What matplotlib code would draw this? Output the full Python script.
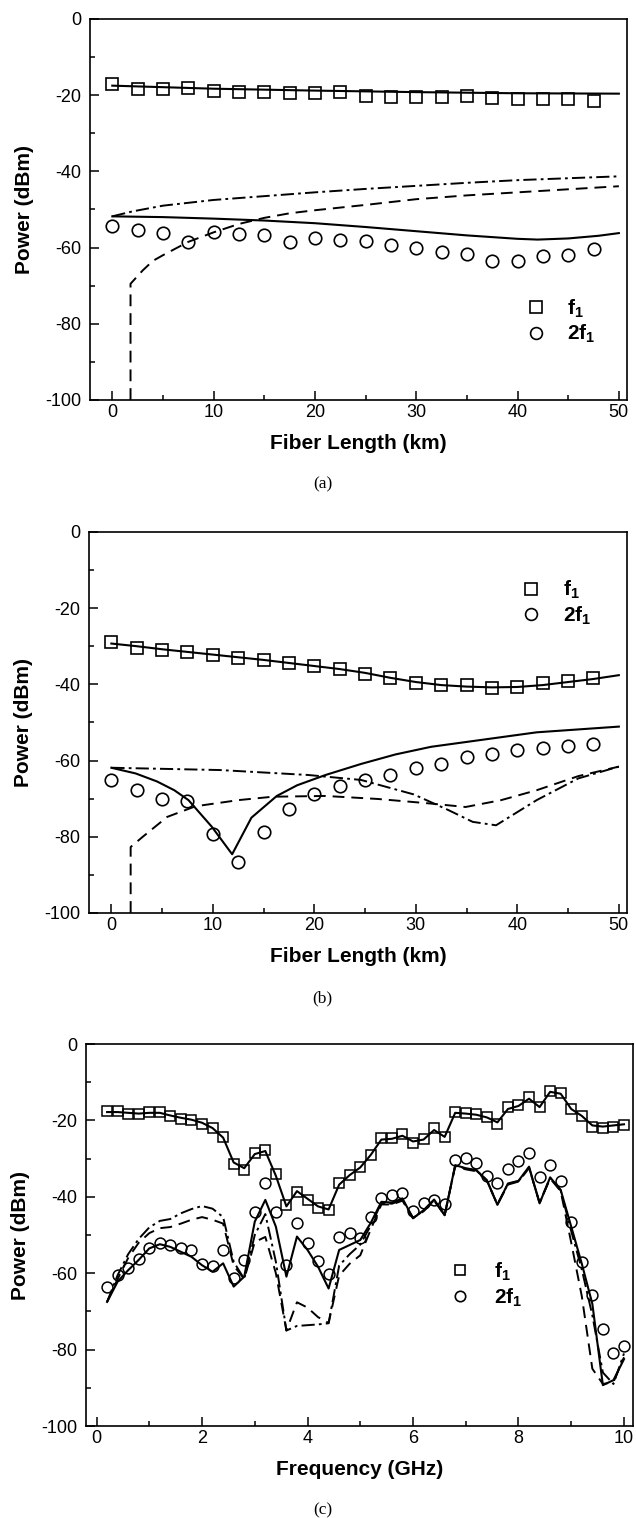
import matplotlib
matplotlib.use('Agg')
import matplotlib.pyplot as plt
from matplotlib.ticker import MultipleLocator
from matplotlib.lines import Line2D

plt.rcParams['font.family'] = ['Liberation Sans', 'DejaVu Sans']
plt.rcParams['axes.unicode_minus'] = False
plt.rcParams['mathtext.fontset'] = 'custom'
plt.rcParams['mathtext.bf'] = 'Liberation Sans:bold'
plt.rcParams['mathtext.rm'] = 'Liberation Sans'
plt.rcParams['lines.scale_dashes'] = False

DASH = (0, (8.5, 5))
DASHDOT = (0, (9.5, 3, 2, 3))

# ---- panel (a): power vs fiber length ----
a_km = [0, 2.5, 5, 7.5, 10, 12.5, 15, 17.5, 20, 22.5, 25, 27.5, 30, 32.5,
        35, 37.5, 40, 42.5, 45, 47.5]
a_f1_meas = [-17.0, -18.5, -18.5, -18.2, -18.8, -19.2, -19.2, -19.5, -19.4,
             -19.2, -20.1, -20.4, -20.4, -20.5, -20.1, -20.7, -21.0, -21.0,
             -21.1, -21.6]
a_2f1_meas = [-54.4, -55.3, -56.1, -58.6, -55.9, -56.5, -56.6, -58.6, -57.5,
              -57.9, -58.3, -59.2, -60.1, -61.2, -61.6, -63.4, -63.5, -62.3,
              -62.0, -60.3]
a_f1_sim_x = [0, 10, 20, 30, 40, 50]
a_f1_sim = [-17.5, -18.3, -18.8, -19.2, -19.5, -19.6]
a_2f1_sim_x = [0, 5, 10, 15, 20, 25, 30, 35, 40, 42, 45, 48, 50]
a_2f1_sim = [-51.8, -52.0, -52.4, -52.9, -53.6, -54.6, -55.7, -56.8, -57.7,
             -57.9, -57.6, -56.9, -56.2]
a_dd_x = [0, 2, 5, 10, 15, 20, 25, 30, 35, 40, 45, 50]
a_dd = [-51.8, -50.5, -49.0, -47.5, -46.5, -45.5, -44.6, -43.8, -43.0, -42.3,
        -41.8, -41.3]
a_da_x = [1.8, 1.8, 3, 4, 5, 7.5, 10, 12.5, 15, 17.5, 20, 25, 30, 35, 40, 45, 50]
a_da = [-100, -69.5, -66.0, -63.5, -62.0, -58.5, -56.0, -53.8, -52.2, -51.0,
        -50.2, -48.8, -47.3, -46.3, -45.5, -44.7, -43.9]

# ---- panel (b) ----
b_km = a_km
b_f1_meas = [-28.9, -30.6, -31.0, -31.5, -32.2, -33.0, -33.7, -34.5, -35.1,
             -36.1, -37.3, -38.4, -39.6, -40.2, -40.3, -41.0, -40.6, -39.7,
             -39.1, -38.4]
b_2f1_meas = [-65.1, -67.8, -70.1, -70.6, -79.3, -86.6, -78.7, -72.8, -68.8,
              -66.7, -65.1, -63.8, -61.9, -60.8, -59.2, -58.4, -57.3, -56.8,
              -56.1, -55.7]
b_f1_sim_x = [0, 2.5, 5, 7.5, 10, 12.5, 15, 17.5, 20, 22.5, 25, 27.5, 30,
              32.5, 35, 37.5, 40, 42.5, 45, 47.5, 50]
b_f1_sim = [-29.3, -30.0, -30.8, -31.5, -32.2, -32.9, -33.6, -34.4, -35.2,
            -36.0, -37.0, -38.3, -39.4, -40.2, -40.6, -40.8, -40.7, -40.2,
            -39.4, -38.6, -37.6]
b_2f1_sim_x = [0, 2.4, 4.5, 6.2, 7.6, 9.9, 11.9, 13.8, 16.3, 18.3, 21.1, 24.6,
               28, 31.5, 36.7, 41.9, 50]
b_2f1_sim = [-61.9, -63.4, -65.5, -67.8, -70.4, -77.4, -84.6, -75.0, -69.3,
             -66.5, -63.8, -60.9, -58.4, -56.4, -54.5, -52.6, -51.1]
b_dd_x = [0, 10.7, 19.4, 24.6, 29.8, 33.2, 35.6, 37.9, 41.9, 46, 50]
b_dd = [-61.9, -62.5, -63.8, -65.1, -68.9, -73.0, -76.1, -77.0, -70.4, -64.7,
        -61.6]
b_da_x = [1.9, 1.9, 3.1, 5.5, 8.3, 12.5, 15.9, 21.1, 26.3, 31.5, 34.9, 38.4,
          41.9, 46, 50]
b_da = [-100, -82.7, -80.0, -74.8, -72.0, -70.4, -69.5, -69.3, -70.1, -71.3,
        -72.2, -70.4, -67.8, -64.1, -61.6]

# ---- panel (c): power vs frequency ----
c_ghz = [0.2, 0.4, 0.6, 0.8, 1.0, 1.2, 1.4, 1.6, 1.8, 2.0, 2.2, 2.4, 2.6, 2.8,
         3.0, 3.2, 3.4, 3.6, 3.8, 4.0, 4.2, 4.4, 4.6, 4.8, 5.0, 5.2, 5.4, 5.6,
         5.8, 6.0, 6.2, 6.4, 6.6, 6.8, 7.0, 7.2, 7.4, 7.6, 7.8, 8.0, 8.2, 8.4,
         8.6, 8.8, 9.0, 9.2, 9.4, 9.6, 9.8, 10.0]
c_f1_meas = [-17.5, -17.5, -18.3, -18.3, -17.9, -17.9, -18.8, -19.5, -19.9,
             -20.8, -22.1, -24.3, -31.5, -33.0, -28.6, -27.7, -33.9, -42.1,
             -38.7, -40.7, -42.8, -43.5, -36.5, -34.3, -32.1, -29.1, -24.7,
             -24.7, -23.6, -25.8, -24.9, -22.1, -24.4, -17.7, -18.0, -18.3,
             -19.0, -20.8, -16.4, -16.0, -13.8, -16.4, -12.2, -12.7, -17.0,
             -18.8, -21.6, -22.1, -21.6, -21.2]
c_f1_sim = [-17.8, -17.8, -18.0, -18.2, -18.0, -18.0, -18.7, -19.3, -19.8,
            -20.6, -22.0, -24.5, -31.0, -32.5, -28.8, -28.0, -34.5, -42.5,
            -38.5, -40.5, -42.5, -43.3, -36.8, -34.3, -32.3, -29.0, -25.0,
            -24.8, -24.0, -25.5, -25.0, -22.5, -24.3, -18.0, -18.2, -18.5,
            -19.2, -20.5, -17.0, -16.2, -14.3, -16.5, -12.5, -13.0, -17.0,
            -18.8, -21.3, -21.6, -21.3, -21.0]
c_2f1_meas = [-63.5, -60.5, -58.6, -56.3, -53.5, -52.0, -52.6, -53.5, -53.9,
              -57.7, -58.0, -53.8, -61.3, -56.5, -43.9, -36.5, -43.9, -57.9,
              -46.8, -52.0, -56.7, -60.3, -50.4, -49.4, -50.9, -45.2, -40.4,
              -39.5, -38.9, -43.7, -41.5, -40.7, -41.9, -30.4, -29.9, -31.2,
              -34.6, -36.5, -32.8, -30.5, -28.6, -34.9, -31.7, -35.9, -46.5,
              -57.0, -65.8, -74.6, -80.8, -79.1]
c_2f1_sim = [-67.5, -62.2, -59.2, -56.5, -53.5, -52.4, -53.1, -54.4, -55.7,
             -57.9, -59.6, -57.4, -63.5, -60.9, -46.5, -40.8, -47.8, -60.9,
             -50.4, -53.9, -58.3, -64.0, -53.9, -52.6, -51.3, -46.8, -41.3,
             -41.5, -40.4, -45.6, -43.5, -40.7, -44.8, -31.7, -32.5, -33.0,
             -35.6, -42.1, -36.5, -35.8, -32.1, -41.7, -34.9, -38.2, -47.8,
             -57.5, -68.0, -89.3, -88.0, -82.5]
c_da = [-67.5, -61.5, -56.0, -52.0, -49.5, -48.2, -47.9, -47.0, -46.0, -45.3,
        -46.0, -47.0, -58.0, -61.5, -51.8, -50.5, -60.0, -75.0, -67.6, -69.0,
        -71.5, -73.0, -60.6, -57.5, -55.3, -48.5, -42.0, -42.0, -41.0, -45.5,
        -43.8, -41.0, -44.8, -32.0, -32.8, -33.3, -35.8, -42.0, -36.8, -36.0,
        -32.5, -41.5, -35.2, -38.5, -52.0, -66.0, -85.0, -89.0, -88.5, -82.0]
c_dd = [-67.5, -60.5, -55.0, -51.0, -48.0, -46.3, -45.8, -44.3, -43.2, -42.4,
        -43.1, -45.3, -57.0, -61.5, -50.0, -44.5, -57.0, -75.0, -73.8, -73.6,
        -73.4, -73.1, -58.0, -55.0, -52.5, -47.5, -41.6, -41.8, -40.8, -45.6,
        -43.6, -40.9, -44.8, -31.8, -32.6, -33.1, -35.7, -42.0, -36.6, -35.9,
        -32.3, -41.6, -35.0, -38.3, -49.0, -59.0, -71.0, -86.0, -89.0, -81.0]

key_labels = [r'$\mathbf{f}_\mathbf{1}$', r'$\mathbf{2f}_\mathbf{1}$']


def style_axes(ax, xlim, xmajor, xminor, xlabel):
    ax.set_xlim(*xlim)
    ax.set_ylim(-100, 0)
    ax.xaxis.set_major_locator(MultipleLocator(xmajor))
    ax.xaxis.set_minor_locator(MultipleLocator(xminor))
    ax.yaxis.set_major_locator(MultipleLocator(20))
    ax.yaxis.set_minor_locator(MultipleLocator(10))
    ax.tick_params(which='both', direction='in', top=False, right=False,
                   width=1.1, labelsize=13)
    ax.tick_params(which='major', length=6.5)
    ax.tick_params(which='minor', length=3.8)
    ax.tick_params(axis='x', pad=3)
    ax.tick_params(axis='y', pad=6)
    for sp in ax.spines.values():
        sp.set_linewidth(1.2)
    ax.set_xlabel(xlabel, fontsize=15, fontweight='bold', labelpad=9)
    ax.set_ylabel('Power (dBm)', fontsize=15, fontweight='bold', labelpad=8)


def add_key(ax, anchor, pad, ms):
    handles = [
        Line2D([], [], ls='none', marker='s', mfc='none', mec='k', mew=1.2, ms=ms),
        Line2D([], [], ls='none', marker='o', mfc='none', mec='k', mew=1.2, ms=ms),
    ]
    ax.legend(handles, key_labels, loc='center left', bbox_to_anchor=anchor,
              frameon=False, borderpad=0, borderaxespad=0, handlelength=1.0,
              handletextpad=pad, labelspacing=0.15, fontsize=15)


fig = plt.figure(figsize=(6.36, 15.18), dpi=100)

ax_a = fig.add_axes([0.1415, 0.7365, 0.8443, 0.251])
ax_a.plot(a_f1_sim_x, a_f1_sim, 'k-', lw=1.5)
ax_a.plot(a_2f1_sim_x, a_2f1_sim, 'k-', lw=1.5)
ax_a.plot(a_dd_x, a_dd, color='k', lw=1.4, ls=DASHDOT)
ax_a.plot(a_da_x, a_da, color='k', lw=1.4, ls=DASH)
ax_a.plot(a_km, a_f1_meas, 's', mfc='none', mec='k', mew=1.2, ms=8)
ax_a.plot(a_km, a_2f1_meas, 'o', mfc='none', mec='k', mew=1.2, ms=9)
style_axes(ax_a, (-2.2, 50.8), 10, 5, 'Fiber Length (km)')
add_key(ax_a, (0.811, 0.2065), 1.0, 8.5)

ax_b = fig.add_axes([0.1400, 0.3986, 0.8458, 0.251])
ax_b.plot(b_f1_sim_x, b_f1_sim, 'k-', lw=1.5)
ax_b.plot(b_2f1_sim_x, b_2f1_sim, 'k-', lw=1.5)
ax_b.plot(b_dd_x, b_dd, color='k', lw=1.4, ls=DASHDOT)
ax_b.plot(b_da_x, b_da, color='k', lw=1.4, ls=DASH)
ax_b.plot(b_km, b_f1_meas, 's', mfc='none', mec='k', mew=1.2, ms=8)
ax_b.plot(b_km, b_2f1_meas, 'o', mfc='none', mec='k', mew=1.2, ms=9)
style_axes(ax_b, (-2.2, 50.8), 10, 5, 'Fiber Length (km)')
add_key(ax_b, (0.803, 0.8135), 1.0, 8.5)

ax_c = fig.add_axes([0.1352, 0.0606, 0.8600, 0.2516])
ax_c.plot(c_ghz, c_f1_sim, 'k-', lw=1.5)
ax_c.plot(c_ghz, c_2f1_sim, 'k-', lw=1.5)
ax_c.plot(c_ghz, c_dd, color='k', lw=1.4, ls=DASHDOT)
ax_c.plot(c_ghz, c_da, color='k', lw=1.4, ls=DASH)
ax_c.plot(c_ghz, c_f1_meas, 's', mfc='none', mec='k', mew=1.1, ms=7.5)
ax_c.plot(c_ghz, c_2f1_meas, 'o', mfc='none', mec='k', mew=1.1, ms=7.8)
style_axes(ax_c, (-0.2, 10.17), 2, 1, 'Frequency (GHz)')
add_key(ax_c, (0.665, 0.3695), 1.12, 7.5)

for label, ypix in [('(a)', 484), ('(b)', 998), ('(c)', 1510)]:
    fig.text(0.507, 1 - ypix / 1518, label, ha='center', va='center',
             fontsize=12.5, family='Liberation Serif')

fig.savefig('out.png', dpi=100)
